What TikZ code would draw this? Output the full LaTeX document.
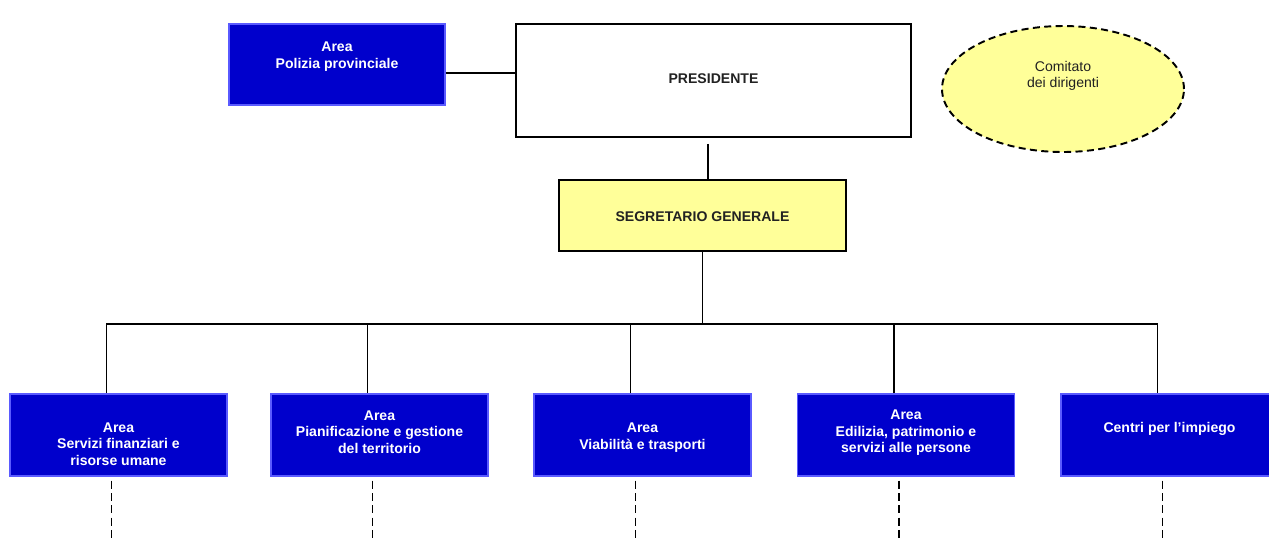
\documentclass[tikz,border=0pt]{standalone}
\usepackage{xcolor}
\usepackage{fontspec}
\setmainfont{Liberation Sans}
\usepackage{tikz}
\usetikzlibrary{shapes.geometric,positioning}

\definecolor{areablue}{HTML}{0000CC}
\definecolor{areaedge}{HTML}{5A5AFF}
\definecolor{segyellow}{HTML}{FFFF99}
\definecolor{inkgray}{HTML}{222222}

\tikzset{
	areabox/.style={rectangle,draw=areaedge,fill=areablue,line width=0.8pt,minimum width=4.34cm,minimum height=1.64cm,inner sep=0pt},
	areatext/.style={text=white,font=\fontsize{8}{9.4}\selectfont\bfseries,align=center,inner sep=0pt},
	conn/.style={line width=1.1pt},
	dashdown/.style={line width=1pt,dash pattern=on 4.5pt off 2.5pt},
}

\begin{document}
\begin{tikzpicture}[x=0.02cm,y=-0.02cm]
			\useasboundingbox (0,0) rectangle (1269,539);

			% ---------------- Top ----------------
			\node[areabox,minimum width=4.32cm,minimum height=1.62cm] (pol) at (337,64.5) {};
			\node[areatext] (poltxt) at (337,56.5) {Area\\Polizia provinciale};

			\node[rectangle,draw,fill=white,line width=1.1pt,minimum width=7.9cm,minimum height=2.26cm] (pres) at (713.5,80.5) {};
			\node[text=inkgray,font=\fontsize{8}{9.4}\selectfont\bfseries] (prestxt) at (713.5,78.5) {PRESIDENTE};

			\node[ellipse,draw,fill=segyellow,line width=1.1pt,dash pattern=on 4pt off 2.5pt,minimum width=4.84cm,minimum height=2.52cm] (com) at (1063,89) {};
			\node[align=center,text=inkgray,font=\fontsize{8}{9.4}\selectfont] (comtxt) at (1063,76) {Comitato\\dei dirigenti};

			\node[rectangle,draw,fill=segyellow,line width=1.1pt,minimum width=5.74cm,minimum height=1.42cm] (seg) at (702.5,215.5) {};
			\node[text=inkgray,font=\fontsize{8}{9.4}\selectfont\bfseries] (segtxt) at (702.5,216.5) {SEGRETARIO GENERALE};

			% Edges
			\coordinate (pj) at ([yshift=-0.17cm]pol.east);
			\draw[conn] (pj) -- (pj -| pres.west);
			\draw[conn] ([xshift=-0.11cm,yshift=-0.12cm]pres.south) -- ([xshift=-0.11cm]pres.south |- seg.north);

			% ---------------- Areas (Bottom) ----------------
			\node[areabox] (a1) at (118.5,435) {};
			\node[areabox] (a2) at (379.5,435) {};
			\node[areabox] (a3) at (642.5,435) {};
			\node[areabox] (a4) at (906,435) {};
			\node[areabox] (a5) at (1169.5,435) {};

			\node[areatext] (t1) at (118.5,444) {Area\\Servizi finanziari e\\risorse umane};
			\node[areatext] (t2) at (379.5,432) {Area\\Pianificazione e gestione\\del territorio};
			\node[areatext] (t3) at (642.5,437.5) {Area\\Viabilità e trasporti};
			\node[areatext] (t4) at (906,433) {Area\\Edilizia, patrimonio e\\servizi alle persone};
			\node[areatext] (t5) at (1169.5,429) {Centri per l’impiego};

			% Edges (tree)
			\draw[conn] (seg.south) -- ++(0,72) -| ([xshift=-0.24cm]a1.north);
			\draw[conn] (seg.south) -- ++(0,72) -| ([xshift=-0.24cm]a2.north);
			\draw[conn] (seg.south) -- ++(0,72) -| ([xshift=-0.24cm]a3.north);
			\draw[conn] (seg.south) -- ++(0,72) -| ([xshift=-0.24cm]a4.north);
			\draw[conn] (seg.south) -- ++(0,72) -| ([xshift=-0.24cm]a5.north);

			% Dashed continuations
			\coordinate (d1) at ([xshift=-0.14cm,yshift=-1.26cm]a1.south);
			\coordinate (d2) at ([xshift=-0.14cm,yshift=-1.26cm]a2.south);
			\coordinate (d3) at ([xshift=-0.14cm,yshift=-1.26cm]a3.south);
			\coordinate (d4) at ([xshift=-0.14cm,yshift=-1.26cm]a4.south);
			\coordinate (d5) at ([xshift=-0.14cm,yshift=-1.26cm]a5.south);
			\draw[dashdown] ([xshift=-0.14cm,yshift=-0.08cm]a1.south) -- (d1);
			\draw[dashdown] ([xshift=-0.14cm,yshift=-0.08cm]a2.south) -- (d2);
			\draw[dashdown] ([xshift=-0.14cm,yshift=-0.08cm]a3.south) -- (d3);
			\draw[dashdown] ([xshift=-0.14cm,yshift=-0.08cm]a4.south) -- (d4);
			\draw[dashdown] ([xshift=-0.14cm,yshift=-0.08cm]a5.south) -- (d5);
		\end{tikzpicture}
\end{document}
